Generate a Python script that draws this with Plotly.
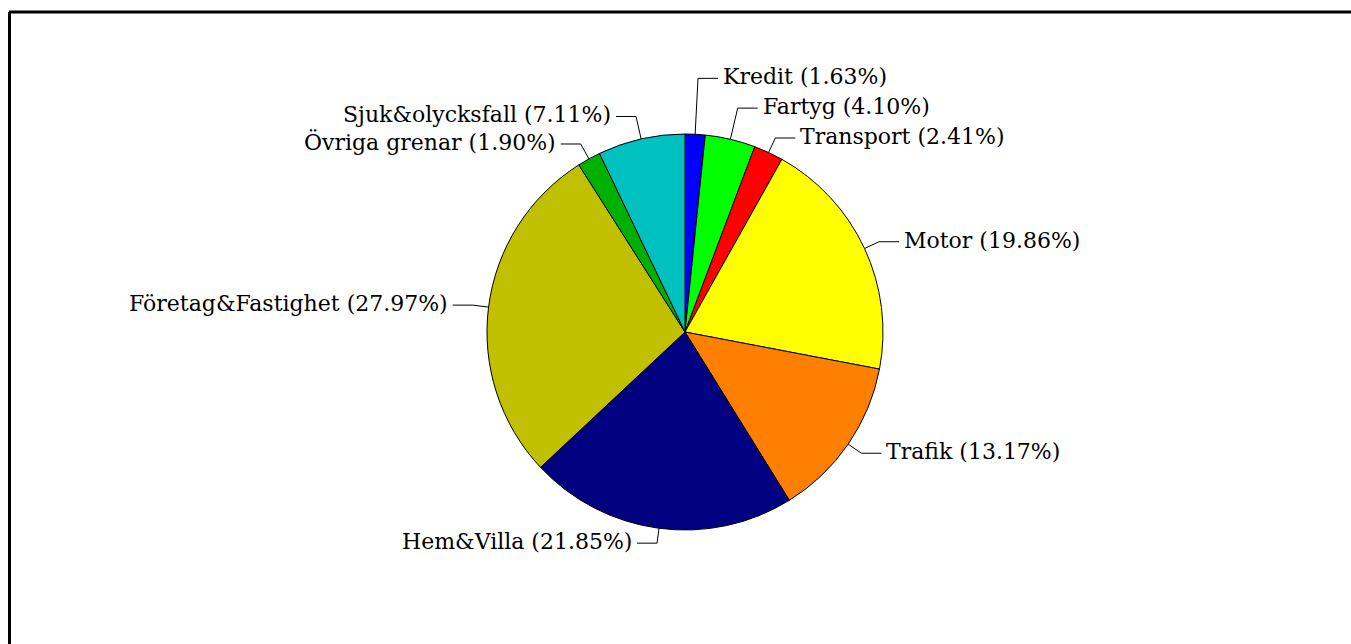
import math
import plotly.graph_objects as go

# ---- data ----
labels = ["Kredit", "Fartyg", "Transport", "Motor", "Trafik", "Hem&Villa",
          "Företag&Fastighet", "Övriga grenar", "Sjuk&olycksfall"]
shares = [1.63, 4.10, 2.41, 19.86, 13.17, 21.85, 27.97, 1.90, 7.11]
colors = ["#0000FF", "#00FF00", "#FF0000", "#FFFF00", "#FF8000", "#000080",
          "#C0C000", "#00B000", "#00C0C0"]

# ---- layout / styling ----
W, H = 1351, 644                    # figure size (body margin removed)
CX, CY, R = 685, 332, 198           # pie centre & radius (px)
leader_ext = [56, 32, 16, 16, 16, 15, 16, 17, 23]  # radial leader length per label
HSEG = 20                           # horizontal part of leader
GAP = 3
FONT = dict(family="DejaVu Serif", size=22, color="black")

def px(x):
    return x / W

def py(y):
    return 1 - y / H

fig = go.Figure(go.Pie(
    labels=labels, values=shares, sort=False, direction="clockwise",
    rotation=0, textinfo="none", hoverinfo="label+percent",
    marker=dict(colors=colors, line=dict(color="black", width=1)),
    domain=dict(x=[px(CX - R), px(CX + R)], y=[py(CY + R), py(CY - R)]),
    showlegend=False,
))

shapes = []
annotations = []
total = sum(shares)
cum = 0.0
for lab, v, ext in zip(labels, shares, leader_ext):
    mid = (cum + v / 2) / total * 2 * math.pi
    cum += v
    sx, sy = math.sin(mid), -math.cos(mid)
    x0, y0 = CX + R * sx, CY + R * sy
    x1, y1 = CX + (R + ext) * sx, CY + (R + ext) * sy
    side = 1 if sx >= 0 else -1
    x2 = x1 + side * HSEG
    shapes.append(dict(
        type="path", xref="paper", yref="paper",
        path=f"M {px(x0)},{py(y0)} L {px(x1)},{py(y1)} L {px(x2)},{py(y1)}",
        line=dict(color="black", width=1)))
    annotations.append(dict(
        x=px(x2 + side * GAP), y=py(y1 - 1.5), xref="paper", yref="paper",
        text=f"{lab} ({v:.2f}%)", showarrow=False,
        xanchor="left" if side > 0 else "right", yanchor="middle",
        font=FONT))

# frame (top and left edges visible)
FX, FY = 9, 12
shapes.append(dict(type="line", xref="paper", yref="paper",
                   x0=px(FX), y0=py(FY), x1=px(W + 5), y1=py(FY),
                   line=dict(color="black", width=3)))
shapes.append(dict(type="line", xref="paper", yref="paper",
                   x0=px(FX + 0.5), y0=py(FY), x1=px(FX + 0.5), y1=py(H + 5),
                   line=dict(color="black", width=3)))

fig.update_layout(
    width=W, height=H, margin=dict(l=0, r=0, t=0, b=0),
    paper_bgcolor="white", plot_bgcolor="white",
    shapes=shapes, annotations=annotations,
)

fig.write_html("out.html",
               config={"displayModeBar": False},
               post_script="document.body.style.margin='0px';"
                           "document.body.style.overflow='hidden';")
